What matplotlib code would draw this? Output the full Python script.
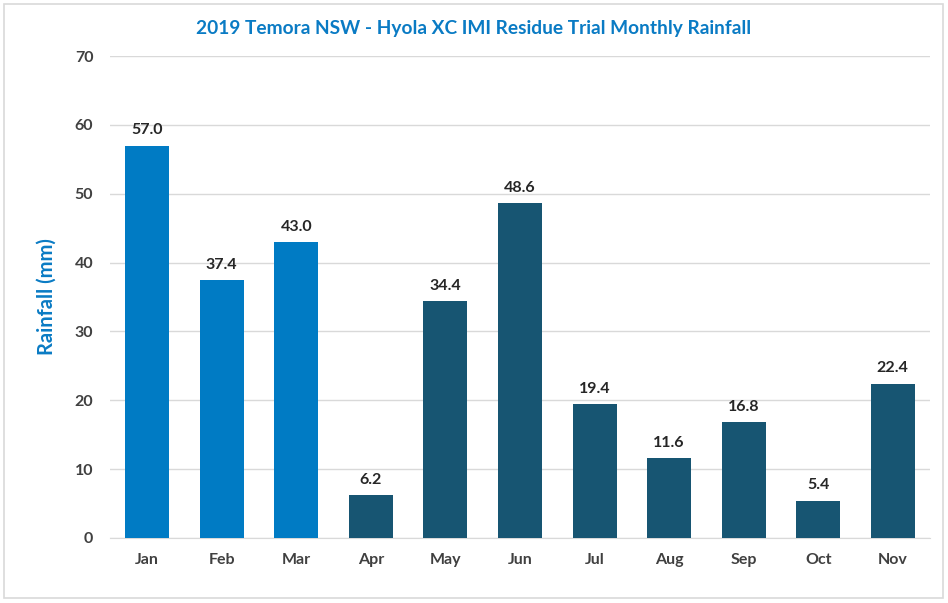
import matplotlib
matplotlib.use("Agg")
import matplotlib.pyplot as plt
from matplotlib.patches import Rectangle

months = ["Jan", "Feb", "Mar", "Apr", "May", "Jun", "Jul", "Aug", "Sep", "Oct", "Nov"]
rainfall = [57.0, 37.4, 43.0, 6.2, 34.4, 48.6, 19.4, 11.6, 16.8, 5.4, 22.4]
light_months = ["Jan", "Feb", "Mar"]

LIGHT = "#007BC4"
DARK = "#175572"
TEXT = "#404040"

plt.rcParams["font.family"] = ["Lato", "DejaVu Sans"]

fig = plt.figure(figsize=(9.48, 6.03), dpi=100)
ax = fig.add_axes([0.116, 0.108, 0.865, 0.799])

colors = [LIGHT if m in light_months else DARK for m in months]
x = range(len(months))
bars = ax.bar(x, rainfall, width=0.59, color=colors, zorder=3)

for b, v in zip(bars, rainfall):
    ax.text(b.get_x() + b.get_width() / 2, v + 1.2, f"{v:.1f}",
            ha="center", va="bottom", fontsize=11.5, fontweight="bold", color="#262626")

ax.set_xlim(-0.5, len(months) - 0.5)
ax.set_ylim(0, 70)
ax.set_yticks(range(0, 71, 10))
ax.set_xticks(list(x))
ax.set_xticklabels(months)
ax.grid(axis="y", color="#D9D9D9", linewidth=1.0, zorder=0)
for s in ["top", "right", "left"]:
    ax.spines[s].set_visible(False)
ax.spines["bottom"].set_color("#D9D9D9")
ax.tick_params(length=0, labelsize=11.5, colors=TEXT, pad=12)
ax.tick_params(axis="x", pad=11)
for lab in ax.get_xticklabels() + ax.get_yticklabels():
    lab.set_fontweight("bold")

ax.set_ylabel("Rainfall (mm)", fontsize=14.5, fontweight="bold", color="#0A7BC4", labelpad=13)
fig.text(0.5, 0.952, "2019 Temora NSW - Hyola XC IMI Residue Trial Monthly Rainfall",
         ha="center", va="center", fontsize=13.8, fontweight="bold", color="#0A7BC4")

fig.patches.append(Rectangle((0.004, 0.008), 0.991, 0.985, transform=fig.transFigure,
                             fill=False, edgecolor="#D9D9D9", linewidth=1.2))

fig.savefig("out.png", dpi=100)
